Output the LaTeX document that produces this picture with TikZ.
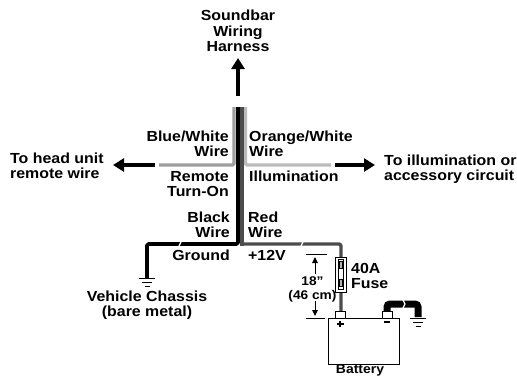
\documentclass[tikz,border=0pt]{standalone}
\usepackage{fontspec}
\setmainfont[FakeStretch=1.09]{Liberation Sans}
\usetikzlibrary{arrows.meta}
\definecolor{wiregray}{gray}{0.62}
\definecolor{redwire}{gray}{0.3}
\tikzset{
  lbl/.style={inner sep=0pt,font=\bfseries\fontsize{14.6}{15.4}\selectfont},
  lbll/.style={lbl,anchor=west,align=left},
  lblr/.style={lbl,anchor=east,align=right},
  lblc/.style={lbl,anchor=center,align=center},
  fatarrow/.style={line width=3.6pt,-{Triangle[length=11pt,width=13pt]}},
  wire/.style={line width=3.2pt,line join=round,rounded corners=1.5pt},
  bigwire/.style={line width=7pt,rounded corners=3pt},
  thin1/.style={line width=0.9pt},
  dimarrow/.style={line width=1pt,-{Triangle[length=6pt,width=5.5pt]}},
  brk/.style={white,line width=1.2pt},
  grnd/.pic={\draw[line width=1pt] (-8,0)--(8,0) (-5,4)--(5,4) (-2.5,8)--(2.5,8);}
}
\begin{document}
\begin{tikzpicture}[x=1pt,y=-1pt]
\useasboundingbox (0,0) rectangle (517,376);
% labels
\node[lblc] (sb) at (238,31) {Soundbar\\Wiring\\Harness};
\node[lbll] (hu) at (10,166) {To head unit\\remote wire};
\node[lbll] (ill) at (384,169) {To illumination or\\accessory circuit};
\node[lblr] (bw) at (229,144) {Blue/White\\Wire};
\node[lbll] (ow) at (249,144) {Orange/White\\Wire};
\node[lblr] (rt) at (229,184) {Remote\\Turn-On};
\node[lbll] (im) at (249,176.5) {Illumination};
\node[lblr] (bk) at (230,225) {Black\\Wire};
\node[lbll] (rd) at (248,225) {Red\\Wire};
\node[lblr] (gd) at (230,255) {Ground};
\node[lbll] (pv) at (248,255) {+12V};
\node[lbll] (fl) at (351,276) {40A\\Fuse};
\node[lblc] (vc) at (147,305) {Vehicle Chassis\\(bare metal)};
\node[lbl,anchor=base,font=\bfseries\fontsize{12.8}{14}\selectfont] (bt) at (360,373.2) {Battery};
\node[lblc,font=\bfseries\fontsize{12.6}{14}\selectfont] (dl) at (312.5,289) {18"\\(46 cm)};
% junction coordinates
\coordinate (top) at (238,107);
\coordinate (lj) at (234,165);
\coordinate (rj) at (245.5,165);
\coordinate (lend) at (159,165);
\coordinate (rend) at (331,165);
\coordinate (bj) at (238,244);
\coordinate (rdj) at (242,244);
\coordinate (gc) at (147,244);
\coordinate (gg) at (147,278);
\coordinate (fc) at (341,244);
% fat arrows
\coordinate (u0) at (238,96); \coordinate (u1) at (238,58);
\coordinate (l0) at (155,165); \coordinate (l1) at (113,165);
\coordinate (r0) at (335,165); \coordinate (r1) at (375,165);
\draw[fatarrow] (u0)--(u1);
\draw[fatarrow] (l0)--(l1);
\draw[fatarrow] (r0)--(r1);
% wires
\draw[wiregray,wire] (top -| lj) -- (lj) -- (lend);
\draw[wiregray!70,wire] (top -| rj) -- (rj) -- (rend);
\fill[redwire] (240,107) rectangle (244,246);
\draw[redwire,wire] (rdj) -- (fc) -- (341,312);
\draw[black,wire,line width=3.8pt] (top) -- (bj) -- (gc) -- (gg);
\draw[brk] (179,246)--(181,242);
\draw[brk] (301,246)--(303,242);
% fuse
\node[draw,fill=white,line width=0.9pt,minimum width=11.5pt,minimum height=35pt,inner sep=0pt] (fuse) at (341,274.5) {};
\node[draw,line width=0.7pt,minimum width=5.5pt,minimum height=30pt,inner sep=0pt] (fi) at (341,274.5) {};
\node[draw,line width=0.6pt,fill=gray!60,minimum width=2.5pt,minimum height=7pt,inner sep=0pt] at (341,265) {};
\node[draw,line width=0.6pt,fill=gray!60,minimum width=2.5pt,minimum height=7pt,inner sep=0pt] at (341,282.5) {};
% negative cable
\coordinate (n1) at (387,304); \coordinate (n2) at (418,304); \coordinate (n3) at (418,317);
\draw[bigwire] (387,312) -- (n1) -- (n2) -- (n3);
\draw[white,line width=1.3pt] (403,300)--(405,304)--(403,308);
% battery
\node[draw,thin1,minimum width=71pt,minimum height=46pt,inner sep=0pt] (bat) at (363.5,341) {};
\node[draw,thin1,fill=white,minimum width=10pt,minimum height=7pt,inner sep=0pt] (tp) at (340.5,314.5) {};
\node[draw,thin1,fill=white,minimum width=10pt,minimum height=7pt,inner sep=0pt] (tn) at (387,314.5) {};
\draw[line width=1.6pt] (337,324)--(343.5,324) (340.2,320.8)--(340.2,327.2);
\draw[line width=2pt] (384,322)--(390,322);
% grounds
\pic at (147,278) {grnd};
\pic at (418,318) {grnd};
% dimension
\coordinate (d0a) at (306,254); \coordinate (d0b) at (327,254);
\coordinate (d1a) at (306,318); \coordinate (d1b) at (325,318);
\draw[thin1] (d0a)--(d0b) (d1a)--(d1b);
\coordinate (a0) at (315,274); \coordinate (a1) at (315,257);
\coordinate (b0) at (315,301); \coordinate (b1) at (315,316);
\draw[dimarrow] (a0)--(a1);
\draw[dimarrow] (b0)--(b1);
\end{tikzpicture}
\end{document}
